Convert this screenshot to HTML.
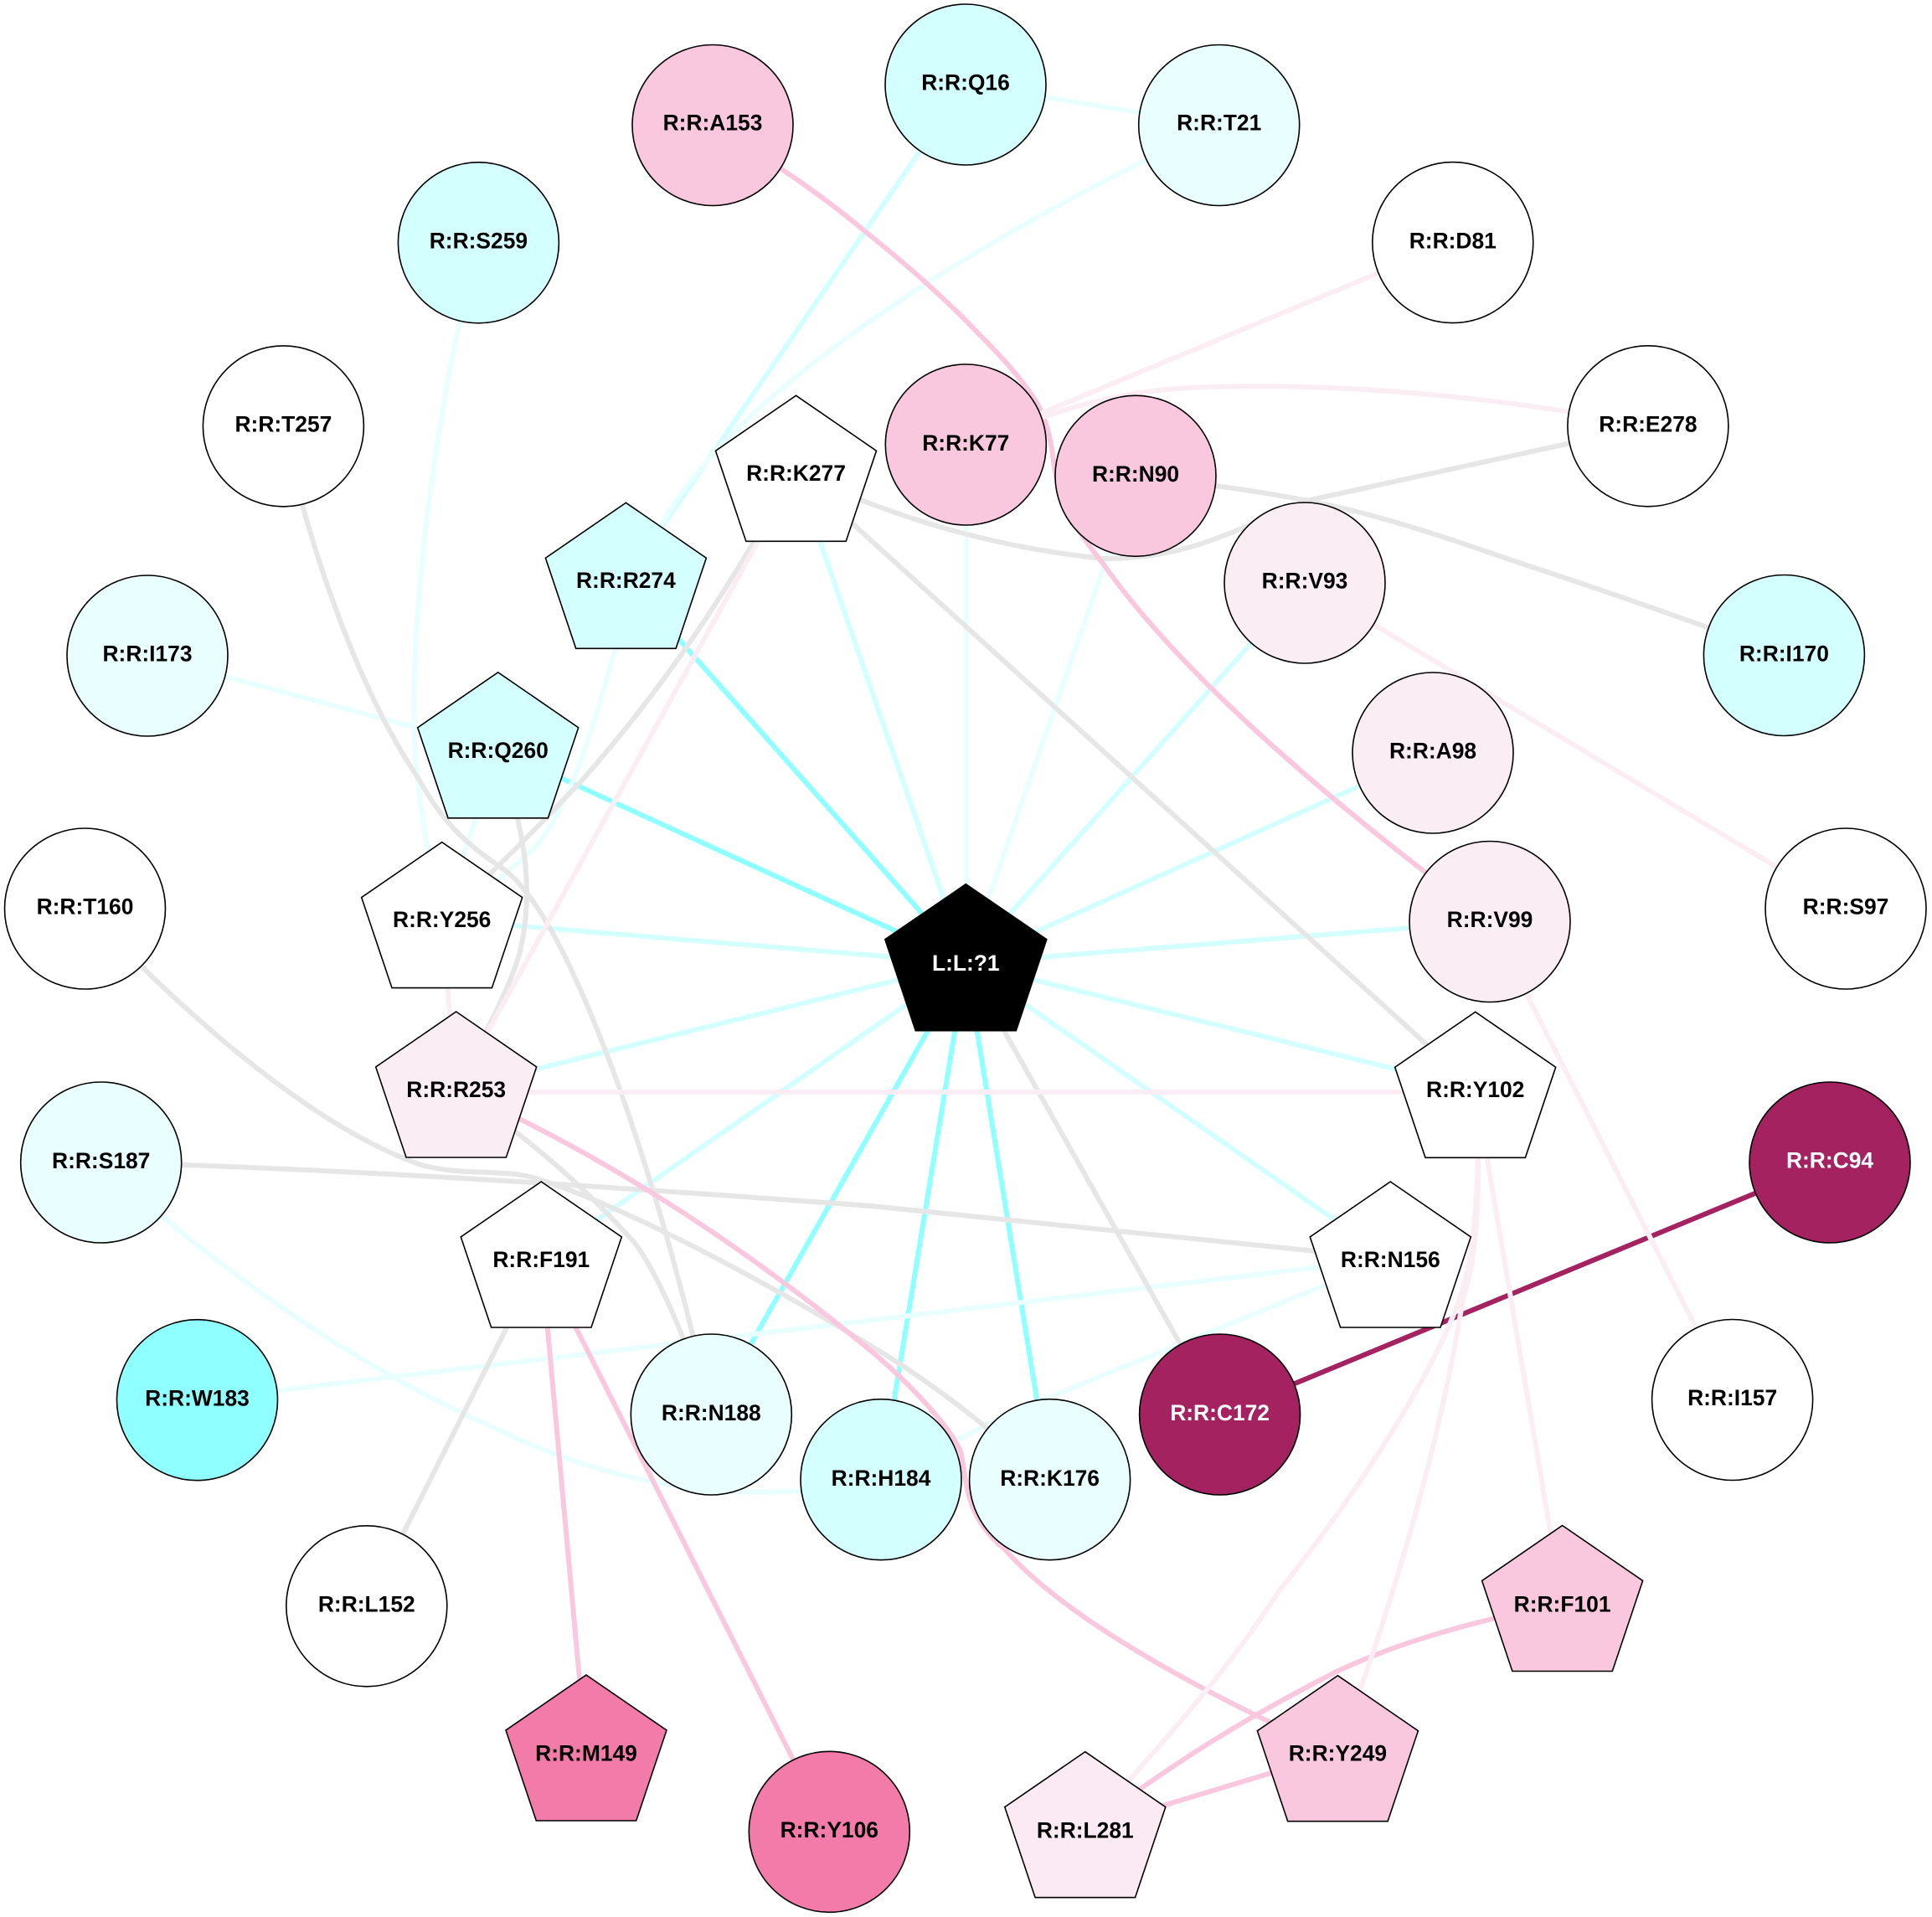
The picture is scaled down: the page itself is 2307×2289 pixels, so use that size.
<!DOCTYPE html>
<html>
<head>
<meta charset="utf-8">
<style>
html,body{margin:0;padding:0;background:#fff}
svg{display:block}
text{font-family:"Liberation Sans",sans-serif;font-weight:bold;font-size:26.4px;text-anchor:middle;fill:#000}
text.w{fill:#fff}
.e path,.e line{fill:none;stroke-width:6}
.c1 *{stroke:#8fffff}
.c2 *{stroke:#d4ffff}
.c3 *{stroke:#e9ffff}
.g *{stroke:#e6e6e6}
.d *{stroke:#a3225f}
.p1 *{stroke:#f9c8de}
.p2 *{stroke:#fbedf4}
.n circle,.n polygon{stroke:#000;stroke-width:1.6}
</style>
</head>
<body>
<svg xmlns="http://www.w3.org/2000/svg" width="2307" height="2289" viewBox="0 0 2307 2289">
<rect width="2307" height="2289" fill="#fff"/>
<g class="e c1">
<line x1="1153.5" y1="1150" x2="1253.6" y2="1767"/>
<line x1="1153.5" y1="1150" x2="1052" y2="1767"/>
<line x1="1153.5" y1="1150" x2="849" y2="1689"/>
<line x1="1153.5" y1="1150" x2="595" y2="895"/>
<line x1="1153.5" y1="1150" x2="747.4" y2="692"/>
</g>
<g class="e c2">
<line x1="1153.5" y1="1150" x2="950.5" y2="564"/>
<line x1="1153.5" y1="1150" x2="1558" y2="696"/>
<line x1="1153.5" y1="1150" x2="1711" y2="899"/>
<line x1="1153.5" y1="1150" x2="1779" y2="1100.5"/>
<line x1="1153.5" y1="1150" x2="1761.7" y2="1300"/>
<line x1="1153.5" y1="1150" x2="1660.3" y2="1503"/>
<line x1="1153.5" y1="1150" x2="646.3" y2="1503"/>
<line x1="1153.5" y1="1150" x2="544.7" y2="1300"/>
<line x1="1153.5" y1="1150" x2="527.7" y2="1098"/>
<line x1="1153" y1="101" x2="747.4" y2="692"/>
</g>
<g class="e c3">
<line x1="1153.5" y1="1150" x2="1153.5" y2="531"/>
<line x1="1153.5" y1="1150" x2="1356" y2="568"/>
<line x1="1153" y1="101" x2="1455.7" y2="149.5"/>
<path d="M1455.7,149.5 C1150,290 880,470 795,618 C730,740 720,880 657,987 C630,1030 580,1060 527.7,1098"/>
<line x1="595" y1="895" x2="527.7" y2="1098"/>
<path d="M571.4,289.8 C510,520 485,800 497,914 C503,980 515,1040 527.7,1098"/>
<line x1="176" y1="783" x2="595" y2="895"/>
<path d="M120.6,1388 C230,1490 400,1620 580,1700 C680,1750 840,1810 1052,1767"/>
<line x1="235.5" y1="1671.7" x2="1660.3" y2="1503"/>
<path d="M1660,1503 L1200,1690 L1052,1767"/>
</g>
<g class="e g">
<line x1="1153.5" y1="1150" x2="1456.6" y2="1689"/>
<path d="M338.4,509 C365,640 425,820 500,930 C530,985 560,1010 600,1037 C650,1072 700,1190 740,1300 C775,1400 815,1530 849,1689"/>
<path d="M595,895 C625,990 640,1060 620,1140 C605,1190 570,1250 544.7,1300"/>
<path d="M950,564 C880,680 820,790 693,934 C640,990 590,1040 527.7,1098"/>
<path d="M950,564 C1030,600 1150,650 1317,667 C1420,668 1480,630 1560,598 L1967.9,508.8"/>
<line x1="950.5" y1="564" x2="1761.7" y2="1300"/>
<path d="M1356,568 C1440,578 1520,588 1600,606 C1680,625 1750,650 1823,675 C1900,700 2030,745 2130.4,782.5"/>
<path d="M544.7,1300 C640,1365 700,1420 757,1483 C790,1525 830,1630 849,1689"/>
<path d="M101.5,1085 C200,1190 360,1340 500,1390 C550,1405 600,1395 640,1407 C730,1435 880,1510 1040,1607 C1120,1655 1180,1705 1253,1767"/>
<path d="M120.6,1388 C400,1395 700,1415 1040,1440 C1300,1465 1500,1488 1660,1503"/>
<line x1="646.3" y1="1503" x2="437.8" y2="1917.8"/>
</g>
<g class="e d">
<line x1="1456.6" y1="1689" x2="2185" y2="1388"/>
</g>
<g class="e p1">
<path d="M851,149.5 C910,185 975,228 1029,273 C1090,322 1130,358 1170,400 C1195,425 1215,447 1233,473 C1248,495 1254,520 1257,543 C1262,590 1275,620 1317,673 C1400,790 1550,930 1779,1100"/>
<path d="M544.7,1300 C700,1370 860,1465 1040,1613 C1090,1655 1135,1705 1147,1733 C1155,1765 1150,1810 1200,1850 C1270,1930 1430,2020 1597,2093"/>
<line x1="646.3" y1="1503" x2="700" y2="2093"/>
<line x1="646.3" y1="1503" x2="990.3" y2="2187"/>
<path d="M1865.6,1914 C1790,1930 1680,1955 1594,1997 C1510,2040 1420,2090 1295.8,2184"/>
<line x1="1295.8" y1="2184" x2="1597.4" y2="2093"/>
</g>
<g class="e p2">
<line x1="950.5" y1="564" x2="544.7" y2="1300"/>
<line x1="1153.3" y1="531" x2="1734.8" y2="289"/>
<path d="M1153,531 C1230,505 1300,470 1420,463 C1600,455 1800,475 1967.9,508.8"/>
<line x1="1558" y1="696" x2="2204" y2="1085"/>
<line x1="1779" y1="1100.5" x2="2068.6" y2="1671"/>
<line x1="544.7" y1="1304" x2="1761.7" y2="1304"/>
<line x1="527.7" y1="1098" x2="544.7" y2="1300"/>
<line x1="1761.7" y1="1300" x2="1865.6" y2="1914"/>
<path d="M1761,1300 C1770,1400 1760,1500 1743,1550 C1720,1620 1640,1760 1527,1900 C1470,1990 1390,2080 1296,2184"/>
<path d="M1761,1300 C1770,1400 1765,1500 1747,1550 C1730,1660 1700,1780 1663,1900 C1645,1960 1620,2030 1597,2093"/>
</g>
<g class="n">
<circle cx="851" cy="149.5" r="96" fill="#f9c8de"/><text x="851" y="155.5">R:R:A153</text>
<circle cx="1153" cy="101" r="96" fill="#d4ffff"/><text x="1153" y="107.5">R:R:Q16</text>
<circle cx="1455.7" cy="149.5" r="96" fill="#e9ffff"/><text x="1455.7" y="155.5">R:R:T21</text>
<circle cx="571.4" cy="289.8" r="96" fill="#d4ffff"/><text x="571.4" y="296.5">R:R:S259</text>
<circle cx="1734.8" cy="289.6" r="96" fill="#ffffff"/><text x="1734.8" y="296.5">R:R:D81</text>
<circle cx="338.4" cy="508.9" r="96" fill="#ffffff"/><text x="338.4" y="515.5">R:R:T257</text>
<circle cx="1153.3" cy="531" r="96" fill="#f9c8de"/><text x="1153.3" y="538">R:R:K77</text>
<circle cx="1356" cy="568.3" r="96" fill="#f9c8de"/><text x="1356" y="575">R:R:N90</text>
<circle cx="1967.9" cy="508.8" r="96" fill="#ffffff"/><text x="1967.9" y="515.5">R:R:E278</text>
<circle cx="1558" cy="696" r="96" fill="#fbedf4"/><text x="1558" y="702.5">R:R:V93</text>
<circle cx="176" cy="783" r="96" fill="#e9ffff"/><text x="176" y="789.5">R:R:I173</text>
<circle cx="2130.4" cy="782.5" r="96" fill="#d4ffff"/><text x="2130.4" y="789.5">R:R:I170</text>
<circle cx="1711" cy="899" r="96" fill="#fbedf4"/><text x="1711" y="905.5">R:R:A98</text>
<circle cx="1779" cy="1100.5" r="96" fill="#fbedf4"/><text x="1779" y="1107">R:R:V99</text>
<circle cx="101.5" cy="1085" r="96" fill="#ffffff"/><text x="101.5" y="1091.5">R:R:T160</text>
<circle cx="2204" cy="1085" r="96" fill="#ffffff"/><text x="2204" y="1091.5">R:R:S97</text>
<circle cx="120.7" cy="1388" r="96" fill="#e9ffff"/><text x="120.7" y="1395">R:R:S187</text>
<circle cx="2185" cy="1388" r="96" fill="#a3225f"/><text class="w" x="2185" y="1394.5">R:R:C94</text>
<circle cx="235.5" cy="1671.7" r="96" fill="#8fffff"/><text x="235.5" y="1678.5">R:R:W183</text>
<circle cx="2068.6" cy="1671.5" r="96" fill="#ffffff"/><text x="2068.6" y="1678">R:R:I157</text>
<circle cx="849.3" cy="1689" r="96" fill="#e9ffff"/><text x="849.3" y="1696">R:R:N188</text>
<circle cx="1052" cy="1766.7" r="96" fill="#d4ffff"/><text x="1052" y="1774">R:R:H184</text>
<circle cx="1253.6" cy="1766.7" r="96" fill="#e9ffff"/><text x="1253.6" y="1774">R:R:K176</text>
<circle cx="1456.6" cy="1689" r="96" fill="#a3225f"/><text class="w" x="1456.6" y="1696">R:R:C172</text>
<circle cx="437.8" cy="1917.8" r="96" fill="#ffffff"/><text x="437.8" y="1924.5">R:R:L152</text>
<circle cx="990.3" cy="2187.3" r="96" fill="#f27ba9"/><text x="990.3" y="2194">R:R:Y106</text>

<polygon transform="translate(950.5,472.3)" points="0,0 96,66 59.7,174 -59.7,174 -96,66" fill="#ffffff"/><text x="950.5" y="574">R:R:K277</text>
<polygon transform="translate(747.4,600.3)" points="0,0 96,66 59.7,174 -59.7,174 -96,66" fill="#d4ffff"/><text x="747.4" y="702">R:R:R274</text>
<polygon transform="translate(594.7,802.8)" points="0,0 96,66 59.7,174 -59.7,174 -96,66" fill="#d4ffff"/><text x="594.7" y="905">R:R:Q260</text>
<polygon transform="translate(527.7,1005.6)" points="0,0 96,66 59.7,174 -59.7,174 -96,66" fill="#ffffff"/><text x="527.7" y="1106.8">R:R:Y256</text>
<polygon transform="translate(544.7,1208)" points="0,0 96,66 59.7,174 -59.7,174 -96,66" fill="#fbedf4"/><text x="544.7" y="1310">R:R:R253</text>
<polygon transform="translate(1761.7,1208.3)" points="0,0 96,66 59.7,174 -59.7,174 -96,66" fill="#ffffff"/><text x="1761.7" y="1310">R:R:Y102</text>
<polygon transform="translate(1660.3,1411)" points="0,0 96,66 59.7,174 -59.7,174 -96,66" fill="#ffffff"/><text x="1660.3" y="1513">R:R:N156</text>
<polygon transform="translate(646.3,1411)" points="0,0 96,66 59.7,174 -59.7,174 -96,66" fill="#ffffff"/><text x="646.3" y="1513">R:R:F191</text>
<polygon transform="translate(1865.6,1821.5)" points="0,0 96,66 59.7,174 -59.7,174 -96,66" fill="#f9c8de"/><text x="1865.6" y="1924.5">R:R:F101</text>
<polygon transform="translate(700,2000)" points="0,0 96,66 59.7,174 -59.7,174 -96,66" fill="#f27ba9"/><text x="700" y="2102.5">R:R:M149</text>
<polygon transform="translate(1597.4,2000.7)" points="0,0 96,66 59.7,174 -59.7,174 -96,66" fill="#f9c8de"/><text x="1597.4" y="2102.7">R:R:Y249</text>
<polygon transform="translate(1295.8,2091.7)" points="0,0 96,66 59.7,174 -59.7,174 -96,66" fill="#fbe9f3"/><text x="1295.8" y="2194.7">R:R:L281</text>
<polygon transform="translate(1153.3,1055.7)" points="0,0 96.5,66 60,175 -60,175 -96.5,66" fill="#000000"/><text class="w" x="1153.3" y="1159">L:L:?1</text>
</g>
</svg>
</body>
</html>
